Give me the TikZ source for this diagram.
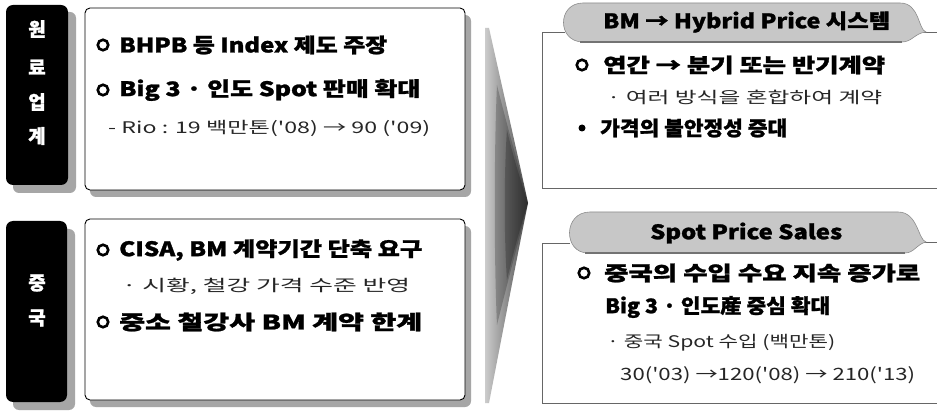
\documentclass[tikz,border=0pt]{standalone}
\usepackage{fontspec}
\usepackage{graphicx}
\newfontfamily\kr{Noto Sans CJK KR}[BoldFeatures={FakeBold=1.2}]
\newcommand\fw[2]{\resizebox{#1pt}{\height}{#2}}
\tikzset{
  mainline/.style={anchor=west, inner sep=0pt, font=\kr\bfseries\fontsize{20}{20}\selectfont},
  subline/.style={anchor=west, inner sep=0pt, text=black!85, font=\kr\fontsize{16}{16}\selectfont},
  bul/.style={circle, draw=black, line width=2.6pt, minimum size=10.5pt, inner sep=0pt, fill=white},
  dotbul/.style={circle, fill=black, minimum size=7pt, inner sep=0pt},
  tagchar/.style={inner sep=0pt, text=white, font=\kr\bfseries\fontsize{19}{19}\selectfont},
  blacktag/.style={fill=black, rounded corners=7pt},
  shadowfill/.style={fill=black!35, rounded corners=6pt},
  leftbox/.style={draw=black, line width=0.9pt, fill=white, rounded corners=5pt},
  rightline/.style={draw=black!60, line width=0.7pt},
  tabfill/.style={fill=black!22, draw=black!45, line width=0.6pt},
  tabtext/.style={inner sep=0pt, font=\kr\bfseries\fontsize{20}{20}\selectfont},
  bigarrow/.style={shading=axis, left color=black!20, right color=black!70},
  arrowcore/.style={fill=black, opacity=0.22}
}
\begin{document}
\begin{tikzpicture}[x=1pt, y=-1pt]
\useasboundingbox (0,0) rectangle (937,414);
\fill[white] (0,0) rectangle (937,414);

% ---------- left column: tags ----------
\fill[shadowfill] (13,12) rectangle (76,193);
\fill[blacktag] (6,5) rectangle (68,185);
\node[tagchar] (t1) at (37,29) {원};
\node[tagchar] (t2) at (37,67) {료};
\node[tagchar] (t3) at (37,102) {업};
\node[tagchar] (t4) at (37,136) {계};

\fill[shadowfill] (13,229) rectangle (75,410);
\fill[blacktag] (6,221) rectangle (67,402);
\node[tagchar] (t5) at (37,283) {중};
\node[tagchar] (t6) at (37,318) {국};

% ---------- left column: boxes ----------
\fill[shadowfill] (90,15) rectangle (471,197);
\path[leftbox] (85,8) rectangle (465,190);
\fill[shadowfill] (90,226) rectangle (471,407);
\path[leftbox] (85,219) rectangle (465,400);

\node[bul] (c1) at (103,45) {};
\node[mainline] (l1) at (119,45) {\fw{268}{BHPB 등 Index 제도 주장}};
\node[bul] (c2) at (103,90) {};
\node[mainline] (l2) at (119,90) {\fw{301}{Big 3 · 인도 Spot 판매 확대}};
\node[subline] (l3) at (108,128) {\fw{322}{- Rio : 19 백만톤('08) → 90 ('09)}};

\node[bul] (c3) at (103,250) {};
\node[mainline] (m1) at (119,250) {\fw{303}{CISA, BM 계약기간 단축 요구}};
\node[subline] (m2) at (122,286) {\fw{288}{· 시황, 철강 가격 수준 반영}};
\node[bul] (c4) at (103,322) {};
\node[mainline] (m3) at (119,322) {\fw{303}{중소 철강사 BM 계약 한계}};

% ---------- big arrow ----------
\path[bigarrow] (485,28) -- (489,28) .. controls (505,100) and (520,165) .. (528,203)
   .. controls (520,242) and (505,320) .. (489,403) -- (485,403) -- cycle;
\fill[arrowcore] (497,85) .. controls (508,130) and (520,170) .. (528,203)
   .. controls (520,236) and (508,280) .. (497,325) .. controls (494,260) and (494,150) .. (497,85) -- cycle;
\fill[arrowcore] (507,130) .. controls (514,160) and (522,185) .. (528,203)
   .. controls (522,221) and (514,250) .. (507,280) .. controls (504,240) and (504,170) .. (507,130) -- cycle;

% ---------- right column: top box ----------
\draw[rightline] (565,32) -- (542,32) -- (542,188) -- (937,188);
\draw[rightline] (924,32) -- (937,32);
\path[tabfill] (583,42) -- (902,42) .. controls (912,42) and (915,33) .. (926,32)
   .. controls (918,30) and (920,3) .. (900,3) -- (583,3) .. controls (557,3) and (557,42) .. (583,42) -- cycle;
\draw[black!55, line width=1.4pt] (580,42) -- (902,42);
\node[tabtext, anchor=west] (h1) at (603,22) {\fw{287}{BM → Hybrid Price 시스템}};

\node[bul] (c5) at (582,65) {};
\node[mainline] (r1) at (603,65) {\fw{282}{연간 → 분기 또는 반기계약}};
\node[subline] (r2) at (607,97) {\fw{275}{· 여러 방식을 혼합하여 계약}};
\node[dotbul] (d1) at (582,128) {};
\node[mainline] (r3) at (600,128) {\fw{187}{가격의 불안정성 증대}};

% ---------- right column: bottom box ----------
\draw[rightline] (570,243) -- (542,243) -- (542,403) -- (937,403);
\draw[rightline] (924,242) -- (937,242);
\path[tabfill] (588,253) -- (905,253) .. controls (914,253) and (917,244) .. (926,242)
   .. controls (918,240) and (918,212) .. (898,212) -- (590,212) .. controls (563,212) and (563,253) .. (588,253) -- cycle;
\draw[black!55, line width=1.4pt] (585,253) -- (905,253);
\node[tabtext, anchor=west] (h2) at (650,233) {\fw{192}{Spot Price Sales}};

\node[bul] (c6) at (584,273) {};
\node[mainline] (s1) at (604,273) {\fw{316}{중국의 수입 수요 지속 증가로}};
\node[mainline] (s2) at (605,307) {\fw{225}{Big 3 · 인도産 중심 확대}};
\node[subline] (s3) at (607,343) {\fw{228}{· 중국 Spot 수입 (백만톤)}};
\node[subline, font=\kr\fontsize{17}{17}\selectfont] (s4) at (620,375) {\fw{295}{30('03) →120('08) → 210('13)}};
\end{tikzpicture}
\end{document}
